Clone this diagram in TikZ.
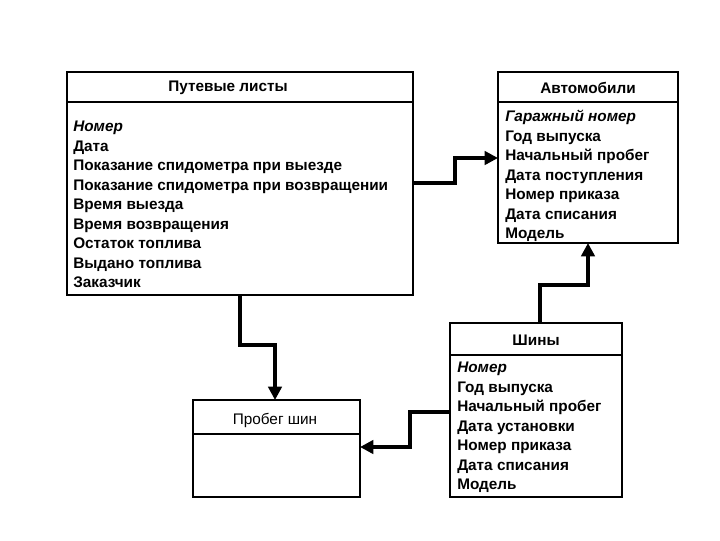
\documentclass[tikz,border=0pt]{standalone}
\usepackage{fontspec}
\setmainfont{Liberation Sans}
\usetikzlibrary{arrows.meta}
\begin{document}
\begin{tikzpicture}[x=0.75pt,y=-0.75pt,
 box/.style={draw,line width=1.7pt},
 con/.style={line width=2.6pt},
 arr/.style={con,-{Triangle[length=10pt,width=10pt]}},
 hd/.style={font=\fontsize{11.5}{12}\selectfont\bfseries,anchor=center},
 lst/.style={font=\fontsize{11.5}{14.6}\selectfont\bfseries,anchor=north west,align=left,inner sep=0pt}]
\useasboundingbox (0,0) rectangle (720,540);
% boxes
\draw[box] (67,72) rectangle (413,295); \draw[box] (67,102) -- (413,102);
\draw[box] (498,72) rectangle (678,243); \draw[box] (498,102) -- (678,102);
\draw[box] (450,323) rectangle (622,497); \draw[box] (450,355) -- (622,355);
\draw[box] (193,400) rectangle (360,497); \draw[box] (193,434) -- (360,434);
\node[hd] (h1) at (228,88) {Путевые листы};
\node[hd] (h2) at (588,88) {Автомобили};
\node[hd] (h3) at (536,340) {Шины};
\node[hd,font=\fontsize{11.5}{12}\selectfont] (h4) at (275,420) {Пробег шин};
\node[lst] (l1) at (73,121) {\textit{Номер}\\Дата\\Показание спидометра при выезде\\Показание спидометра при возвращении\\Время выезда\\Время возвращения\\Остаток топлива\\Выдано топлива\\Заказчик};
\node[lst] (l2) at (505,110) {\textit{Гаражный номер}\\Год выпуска\\Начальный пробег\\Дата поступления\\Номер приказа\\Дата списания\\Модель};
\node[lst] (l3) at (457,362) {\textit{Номер}\\Год выпуска\\Начальный пробег\\Дата установки\\Номер приказа\\Дата списания\\Модель};
% connectors
\coordinate (a1) at (413,183); \coordinate (a2) at (498,158);
\draw[arr] (a1) -- (455,183) -- (455,158) -- (a2);
\coordinate (b1) at (240,295); \coordinate (b2) at (275,400);
\draw[arr] (b1) -- (240,345) -- (275,345) -- (b2);
\coordinate (c1) at (450,412); \coordinate (c2) at (360,447);
\draw[arr] (c1) -- (410,412) -- (410,447) -- (c2);
\coordinate (d1) at (540,323); \coordinate (d2) at (588,243);
\draw[arr] (d1) -- (540,285) -- (588,285) -- (d2);
\end{tikzpicture}
\end{document}
